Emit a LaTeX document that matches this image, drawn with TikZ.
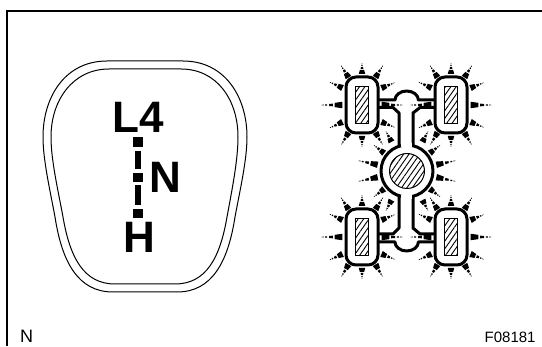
\documentclass[tikz,border=0pt]{standalone}
\usepackage{fontspec}
\setmainfont{Liberation Sans}
\usetikzlibrary{patterns.meta}

\tikzset{
  outline/.style={draw=black, line width=1pt},
  tube/.style={draw=black, line width=3pt, line join=round},
  hatchbox/.style={draw=black, line width=1pt, pattern={Lines[angle=55, distance=4.4pt, line width=0.9pt]}},
  shiftletter/.style={font=\fontsize{44}{44}\selectfont\bfseries, inner sep=0pt, anchor=base},
  smalllabel/.style={inner sep=0pt, anchor=base west},
}

% one ray: solid foot, then dashes getting thinner, drawn pointing right
\newcommand{\sparkray}[4]{%
  \begin{scope}[shift={(#1,#2)}, rotate=-#3, xscale=#4, yscale=0.9]
    \fill (0,-3.6) -- (8,-2.4) -- (8,2.4) -- (0,3.6) -- cycle;
    \fill (10,-1.5) -- (14,-1.1) -- (14,1.1) -- (10,1.5) -- cycle;
    \fill (16,-0.8) -- (18,-0.6) -- (18,0.6) -- (16,0.8) -- cycle;
    \fill (19.5,-0.5) -- (22,0) -- (19.5,0.5) -- cycle;
  \end{scope}}

\begin{document}
\begin{tikzpicture}[x=1pt, y=-1pt]
\useasboundingbox (0,0) rectangle (542,347);

% frame
\draw[line width=2pt] (542,11) -- (7,11) -- (7,346);

% selector plate
\draw[outline] (107,61) -- (183,61) .. controls (225,61) and (247,97) .. (247,137)
  .. controls (247,160) and (240,190) .. (235,217) .. controls (228,262) and (212,292) .. (177,292)
  -- (113,292) .. controls (78,292) and (62,262) .. (55,217)
  .. controls (50,190) and (43,160) .. (43,137) .. controls (43,97) and (65,61) .. (107,61) -- cycle;
\draw[outline] (109,69) -- (181,69) .. controls (217,69) and (238,100) .. (238,137)
  .. controls (238,160) and (232,190) .. (227,217) .. controls (220,258) and (206,284) .. (175,284)
  -- (115,284) .. controls (84,284) and (70,258) .. (63,217)
  .. controls (58,190) and (51,160) .. (51,137) .. controls (51,100) and (73,69) .. (109,69) -- cycle;

\node[shiftletter] (lfour) at (138,133) {L4};
\node[shiftletter] (neutral) at (165.5,193) {N};
\node[shiftletter] (high) at (139,253) {H};

% dashes between the letters
\foreach \ya/\yb/\halfw in {137/147/4.7, 151/169/3.2, 173/182/4.7, 185/205/3.2, 209/218/4.7}
  \fill (138-\halfw,\ya) rectangle (138+\halfw,\yb);

% tubes
\draw[tube] (378,100) -- (395,100) arc[start angle=180, end angle=0, x radius=11.7, y radius=-9] -- (435,100);
\draw[tube] (378,107.5) -- (393,107.5) -- (399,113) -- (399,146);
\draw[tube] (435,107.5) -- (420,107.5) -- (413,113) -- (413,146);
\draw[tube] (378,242) -- (395,242) arc[start angle=180, end angle=360, x radius=11.7, y radius=-9] -- (435,242);
\draw[tube] (378,234) -- (393,234) -- (399,228) -- (399,196);
\draw[tube] (435,234) -- (420,234) -- (413,228) -- (413,196);

\draw[tube] (407,171) circle[radius=26];
\fill[white] (400.5,143) rectangle (411.5,147);
\fill[white] (400.5,195) rectangle (411.5,199);
\draw[hatchbox] (407,171) circle[radius=17.5];

% wheels
\foreach \wx in {362,451}
  \foreach \wy in {105,237} {
    \draw[tube, fill=white, rounded corners=10pt] (\wx-16,\wy-28) rectangle (\wx+16,\wy+28);
    \draw[hatchbox] (\wx-6.5,\wy-18.5) rectangle (\wx+6.5,\wy+18.5);
    \foreach \dx/\dy/\ang/\rayx in {-19.7/0/180/0.95, 19.7/0/0/0.95,
        -19.5/-17/205/0.65, -19.5/17/155/0.65, 19.5/-17/-22/0.65, 19.5/17/22/0.65,
        -13.5/-27.5/238/0.65, 13.5/-27.5/302/0.65, -13.5/27.5/120/0.65, 13.5/27.5/60/0.65,
        0/-31/270/0.5, 0/31/90/0.5} {
      \pgfmathsetmacro{\rx}{\wx+\dx}
      \pgfmathsetmacro{\ry}{\wy+\dy}
      \sparkray{\rx}{\ry}{\ang}{\rayx}
    }
  }

% rays round the middle
\foreach \ang/\off/\rayx in {12/30/0.9, -12/30/0.9, 168/30/0.9, 192/30/0.9,
    38/29/0.6, -38/29/0.6, 142/29/0.6, 218/29/0.6,
    62/33/0.55, -62/33/0.55, 118/33/0.55, 242/33/0.55} {
  \pgfmathsetmacro{\rx}{407+\off*cos(\ang)}
  \pgfmathsetmacro{\ry}{171+\off*sin(\ang)}
  \sparkray{\rx}{\ry}{\ang}{\rayx}
}

\node[smalllabel, font=\fontsize{18}{18}\selectfont] (corner) at (20,343) {N};
\node[smalllabel, font=\fontsize{15}{15}\selectfont] (figno) at (484.5,343) {F08181};
\end{tikzpicture}
\end{document}
